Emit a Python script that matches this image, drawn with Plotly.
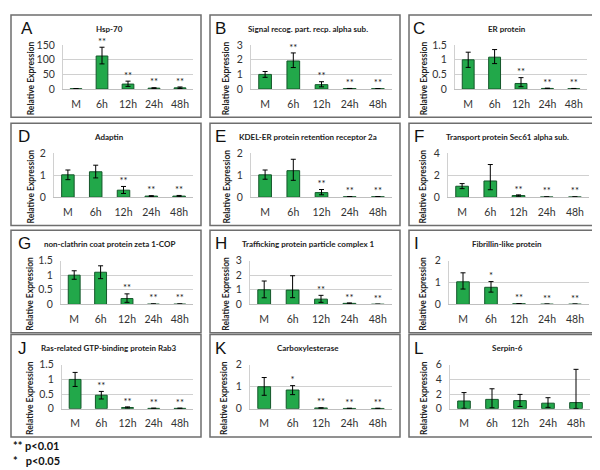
import plotly.graph_objects as go

# ---- data ----
categories = ["M", "6h", "12h", "24h", "48h"]

titles = [
    "Hsp-70",
    "Signal recog. part. recp. alpha sub.",
    "ER protein",
    "Adaptin",
    "KDEL-ER protein retention receptor 2a",
    "Transport protein Sec61 alpha sub.",
    "non-clathrin coat protein zeta 1-COP",
    "Trafficking protein particle complex 1",
    "Fibrillin-like protein",
    "Ras-related GTP-binding protein Rab3",
    "Carboxylesterase",
    "Serpin-6",
]
letters = ["A", "B", "C", "D", "E", "F", "G", "H", "I", "J", "K", "L"]

mean_a = [1.0, 113, 17, 3, 4]
up_a = [0.4, 30, 10, 1.5, 3]
down_a = [0.4, 27, 8, 1.5, 2]
stars_a = ["", "**", "**", "**", "**"]

mean_b = [1.0, 1.92, 0.3, 0.03, 0.02]
up_b = [0.2, 0.55, 0.2, 0.01, 0.01]
down_b = [0.2, 0.45, 0.15, 0.01, 0.01]
stars_b = ["", "**", "**", "**", "**"]

mean_c = [1.0, 1.09, 0.19, 0.02, 0.01]
up_c = [0.26, 0.26, 0.2, 0.01, 0.01]
down_c = [0.26, 0.22, 0.11, 0.01, 0.01]
stars_c = ["", "", "**", "**", "**"]

mean_d = [1.02, 1.16, 0.32, 0.05, 0.05]
up_d = [0.22, 0.3, 0.17, 0.02, 0.03]
down_d = [0.22, 0.28, 0.15, 0.02, 0.03]
stars_d = ["", "", "**", "**", "**"]

mean_e = [1.02, 1.21, 0.21, 0.02, 0.02]
up_e = [0.22, 0.52, 0.14, 0.01, 0.01]
down_e = [0.2, 0.44, 0.1, 0.01, 0.01]
stars_e = ["", "", "**", "**", "**"]

mean_f = [1.0, 1.48, 0.15, 0.02, 0.02]
up_f = [0.24, 1.5, 0.06, 0.01, 0.01]
down_f = [0.22, 0.8, 0.06, 0.01, 0.01]
stars_f = ["", "", "**", "**", "**"]

mean_g = [1.0, 1.1, 0.2, 0.01, 0.01]
up_g = [0.15, 0.22, 0.16, 0.01, 0.01]
down_g = [0.14, 0.22, 0.13, 0.01, 0.01]
stars_g = ["", "", "**", "**", "**"]

mean_h = [1.0, 0.98, 0.36, 0.07, 0.01]
up_h = [0.6, 0.98, 0.26, 0.03, 0.01]
down_h = [0.55, 0.52, 0.22, 0.03, 0.01]
stars_h = ["", "", "**", "**", "**"]

mean_i = [1.03, 0.78, 0.03, 0.01, 0.01]
up_i = [0.41, 0.26, 0.01, 0.01, 0.01]
down_i = [0.33, 0.22, 0.01, 0.01, 0.01]
stars_i = ["", "*", "**", "**", "**"]

mean_j = [1.0, 0.46, 0.04, 0.01, 0.01]
up_j = [0.24, 0.13, 0.02, 0.01, 0.01]
down_j = [0.24, 0.13, 0.02, 0.01, 0.01]
stars_j = ["", "**", "**", "**", "**"]

mean_k = [1.0, 0.85, 0.03, 0.01, 0.01]
up_k = [0.42, 0.2, 0.01, 0.01, 0.01]
down_k = [0.39, 0.21, 0.01, 0.01, 0.01]
stars_k = ["", "*", "**", "**", "**"]

mean_l = [1.05, 1.27, 1.1, 0.75, 0.83]
up_l = [1.15, 1.45, 0.85, 0.75, 4.55]
down_l = [1.0, 1.15, 0.8, 0.57, 0.8]
stars_l = ["", "", "", "", ""]

y_max = [150, 3, 1.5, 2, 2, 4, 1.5, 3, 2, 1.5, 2, 6]
y_dtick = [50, 1, 0.5, 1, 1, 2, 0.5, 1, 1, 0.5, 1, 2]

legend_lines = ["** p<0.01", "*&nbsp;&nbsp;&nbsp;p<0.05"]

panels = [
    (mean_a, up_a, down_a, stars_a),
    (mean_b, up_b, down_b, stars_b),
    (mean_c, up_c, down_c, stars_c),
    (mean_d, up_d, down_d, stars_d),
    (mean_e, up_e, down_e, stars_e),
    (mean_f, up_f, down_f, stars_f),
    (mean_g, up_g, down_g, stars_g),
    (mean_h, up_h, down_h, stars_h),
    (mean_i, up_i, down_i, stars_i),
    (mean_j, up_j, down_j, stars_j),
    (mean_k, up_k, down_k, stars_k),
    (mean_l, up_l, down_l, stars_l),
]

# ---- layout geometry (pixels) ----
W, H = 600, 470
col_left = [3, 202, 401]
row_top = [1, 112, 222, 329]
panel_w, panel_h = 190, 105
# plot area left/right offsets inside each panel (excel auto layout)
plot_x = [(52, 182), (41, 182), (46, 178), (43, 182), (41, 182), (39, 180),
          (50, 182), (40, 182), (40, 180), (51, 182), (40, 182), (41, 181)]
plot_y = (31, 76)
ytitle_dx = [20, 16, 15, 20, 17, 14, 19, 16, 14, 19, 14, 15]
letter_dx = [8, 3, 2, 5, 3, 3, 5, 3, 3, 5, 3, 3]

FONT = "Lato"
GREEN = "#22A84A"
EDGE = "#14562A"


def fx(x):
    return x / W


def fy(y):
    return 1 - y / H


fig = go.Figure()
shapes = []
annotations = []

for i, (mean, up, down, stars) in enumerate(panels):
    r, c = divmod(i, 3)
    left, top = col_left[c], row_top[r]
    n = "" if i == 0 else str(i + 1)
    xa, ya = "x" + n, "y" + n

    fig.add_trace(go.Bar(
        x=categories, y=mean, xaxis=xa, yaxis=ya,
        marker=dict(color=GREEN, line=dict(color=EDGE, width=1)),
        error_y=dict(type="data", symmetric=False, array=up, arrayminus=down,
                     color="black", thickness=1, width=2.5),
        showlegend=False, hoverinfo="skip",
    ))
    tops = [m + u for m, u in zip(mean, up)]
    fig.add_trace(go.Scatter(
        x=categories, y=tops, xaxis=xa, yaxis=ya, mode="text", text=stars,
        textposition="top center", textfont=dict(family=FONT, size=9.5, color="#222"),
        showlegend=False, hoverinfo="skip", cliponaxis=False,
    ))

    x0, x1 = plot_x[i]
    fig.layout["xaxis" + n] = dict(
        domain=[fx(left + x0), fx(left + x1)], anchor=ya,
        showline=True, linecolor="#bfbfbf", linewidth=1, showgrid=False,
        ticks="", ticklabelstandoff=5,
        tickfont=dict(family=FONT, size=10.5, color="#333"), fixedrange=True,
    )
    fig.layout["yaxis" + n] = dict(
        domain=[fy(top + plot_y[1]), fy(top + plot_y[0])], anchor=xa,
        range=[0, y_max[i]], dtick=y_dtick[i], showgrid=True, gridcolor="#d0d0d0",
        gridwidth=1, zeroline=False, showline=True, linecolor="#d0d0d0",
        ticks="", ticklabelstandoff=5,
        tickfont=dict(family=FONT, size=10.5, color="#333"), fixedrange=True,
    )

    shapes.append(dict(type="rect", xref="paper", yref="paper",
                       x0=fx(left), x1=fx(left + panel_w),
                       y0=fy(top + panel_h), y1=fy(top),
                       line=dict(color="#6e6e6e", width=1.5)))
    annotations.append(dict(xref="paper", yref="paper", x=fx(left + 98), y=fy(top + 14),
                            xanchor="center", yanchor="middle",
                            text="<b>" + titles[i] + "</b>", showarrow=False,
                            font=dict(family=FONT, size=8, color="#222")))
    annotations.append(dict(xref="paper", yref="paper", x=fx(left + letter_dx[i]),
                            y=fy(top + 14), xanchor="left", yanchor="middle",
                            text=letters[i], showarrow=False,
                            font=dict(family="Liberation Sans", size=17, color="#111")))
    annotations.append(dict(xref="paper", yref="paper", x=fx(left + ytitle_dx[i]),
                            y=fy(top + 65), xanchor="center", yanchor="middle",
                            text="<b>Relative Expression</b>",
                            textangle=-90, showarrow=False,
                            font=dict(family=FONT, size=8.5, color="#222")))

for k, line in enumerate(legend_lines):
    annotations.append(dict(xref="paper", yref="paper", x=fx(3), y=fy(443 + 15 * k),
                            xanchor="left", yanchor="middle",
                            text="<b>" + line + "</b>", showarrow=False,
                            font=dict(family=FONT, size=11, color="#111")))

fig.update_layout(
    width=W, height=H, margin=dict(l=0, r=0, t=0, b=0),
    paper_bgcolor="white", plot_bgcolor="white",
    bargap=0.55, shapes=shapes, annotations=annotations,
)

fig.write_html("out.html")
